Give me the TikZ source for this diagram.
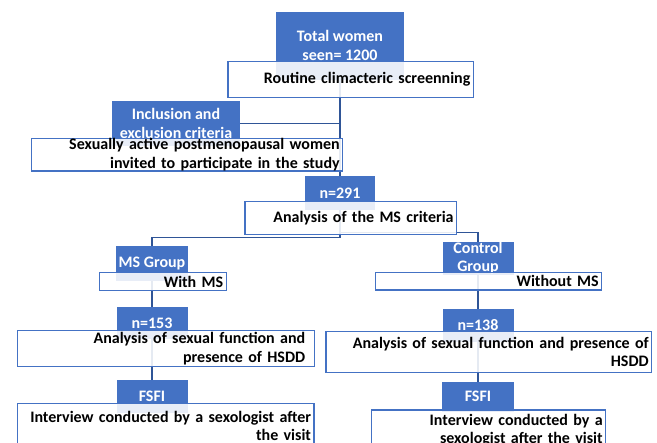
\documentclass[tikz,border=0pt]{standalone}
\usepackage{fontspec}
\setmainfont{Carlito}
\usetikzlibrary{backgrounds}
\definecolor{boxblue}{HTML}{4472C4}
\definecolor{lineblue}{HTML}{2F5597}
\begin{document}
\begin{tikzpicture}[x=1pt,y=-1pt,
	font=\fontsize{16}{18.5}\selectfont\bfseries,
	head/.style={fill=boxblue,draw=boxblue,text=white,align=center,inner sep=0pt},
	stage/.style={draw=boxblue,line width=1.2pt,fill=white,fill opacity=.88,text opacity=1,align=right,inner xsep=3pt,inner ysep=0pt},
	link/.style={draw=lineblue,line width=1.2pt}]
	\useasboundingbox (0,0) rectangle (657,443);
	\node[head,minimum width=127pt,minimum height=67pt] (total) at (340,45.3) {Total women\\seen= 1200};
	\node[stage,text width=239.4pt,minimum height=36pt] (routine) at (350.7,79.7) {Routine climacteric screenning};
	\node[head,minimum width=127pt,minimum height=43.6pt] (inclusion) at (176,123.5) {Inclusion and\\exclusion criteria};
	\node[stage,text width=305.3pt,minimum height=32.7pt] (invited) at (187,154.7) {Sexually active postmenopausal women\\invited to participate in the study};
	\node[head,minimum width=69pt,minimum height=32.6pt] (n291) at (340,193) {n=291};
	\node[stage,text width=205.6pt,minimum height=32.6pt] (criteria) at (350.8,218) {Analysis of the MS criteria};
	\node[head,minimum width=71pt,minimum height=33.2pt] (msgroup) at (152,263.3) {MS Group};
	\node[stage,text width=120.9pt,minimum height=18.1pt] (withms) at (162.75,281.75) {With MS};
	\node[head,minimum width=70.4pt,minimum height=31.2pt] (ctrlgroup) at (478,258.3) {Control\\Group};
	\node[stage,text width=219.9pt,minimum height=17.3pt] (withoutms) at (488.75,281.35) {Without MS};
	\node[head,minimum width=70pt,minimum height=31.4pt] (n153) at (152,323) {n=153};
	\node[stage,inner xsep=9pt,text width=278.6pt,minimum height=36pt] (sexfunL) at (165.9,348.7) {Analysis of sexual function and\\presence of HSDD};
	\node[head,minimum width=70pt,minimum height=32pt] (fsfiL) at (152,396) {FSFI};
	\node[stage,text width=290.4pt,minimum height=45pt] (interviewL) at (165.8,425.8) {Interview conducted by a sexologist after\\the visit};
	\node[head,minimum width=70.4pt,minimum height=32pt] (n138) at (478,325) {n=138};
	\node[stage,text width=319.7pt,minimum height=40.8pt] (sexfunR) at (488.85,352.1) {Analysis of sexual function and presence of\\HSDD};
	\node[head,minimum width=71pt,minimum height=28.5pt] (fsfiR) at (478,396.5) {FSFI};
	\node[stage,text width=228pt,minimum height=40pt] (interviewR) at (488.7,430) {Interview conducted by a\\sexologist after the visit};
	\coordinate (splitL) at (152,237.3);
	\coordinate (splitR) at (478,232.7);
	\begin{scope}[on background layer]
		\draw[link] (total) -- (n291);
		\draw[link] (inclusion) -- (inclusion -| total);
		\draw[link] (n291) |- (splitL) -- (msgroup);
		\draw[link] (n291) |- (splitR) -- (ctrlgroup);
		\draw[link] (msgroup) -- (n153);
		\draw[link] (n153) -- (fsfiL);
		\draw[link] (ctrlgroup) -- (n138);
		\draw[link] (n138) -- (fsfiR);
	\end{scope}
\end{tikzpicture}
\end{document}
